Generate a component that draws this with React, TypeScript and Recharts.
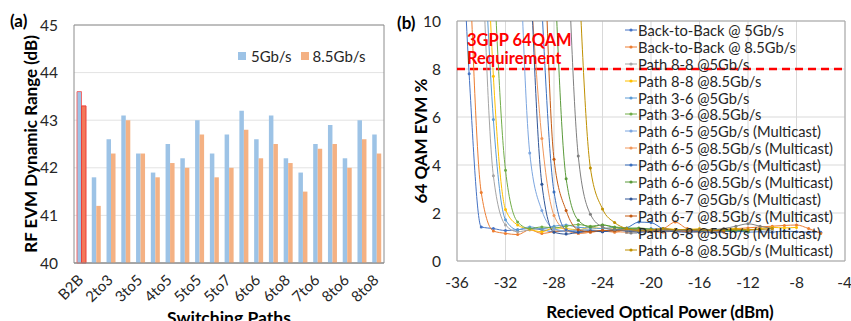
import React from "react";
import {
  BarChart,
  Bar,
  Cell,
  LineChart,
  Line,
  XAxis,
  YAxis,
  CartesianGrid,
  ReferenceLine,
  ReferenceArea,
  Legend,
  Label,
} from "recharts";

const FONT = "Lato, 'Open Sans', sans-serif";
const INK = "#262626";

// (a) dynamic range per switching path
const paths = [
  "B2B", "2to2", "2to3", "3to3", "3to5", "4to4", "4to5", "5to4", "5to5", "5to6", "5to7",
  "6to5", "6to6", "6to7", "6to8", "7to5", "7to6", "8to5", "8to6", "8to7", "8to8",
];
const range5G = [43.6, 41.8, 42.6, 43.1, 42.3, 41.9, 42.5, 42.2, 43.0, 42.3, 42.7, 43.2, 42.6, 43.1, 42.2, 41.9, 42.5, 42.9, 42.2, 43.0, 42.7];
const range85G = [43.3, 41.2, 42.3, 43.0, 42.3, 41.8, 42.1, 42.0, 42.7, 41.8, 42.0, 42.8, 42.2, 42.5, 42.1, 41.5, 42.4, 42.5, 42.0, 42.6, 42.3];
const rangeTicks = [40, 41, 42, 43, 44, 45];

// (b) EVM vs received optical power, [dBm, EVM %]
const b2b5 = [[-36, 19], [-35, 7.8], [-34, 1.42], [-33, 1.35], [-32, 1.27], [-31, 1.3], [-30, 1.36], [-29, 1.3], [-28, 1.22], [-27, 1.25], [-26, 1.2], [-25, 1.22], [-24, 1.26], [-23, 1.3], [-22, 1.28], [-21, 1.25], [-20, 1.22], [-19, 1.3], [-18, 1.25], [-17, 1.22], [-16, 1.25], [-15, 1.2], [-14, 1.22], [-13, 1.25], [-12, 1.2], [-11, 1.22], [-10, 1.2], [-9, 1.25], [-8, 1.22], [-7, 1.2], [-6, 1.2]];
const b2b85 = [[-35, 13], [-34, 2.85], [-33, 1.25], [-32, 1.15], [-31, 1.1], [-30, 1.3], [-29, 1.15], [-28, 1.22], [-27, 1.28], [-26, 1.15], [-25, 1.2], [-24, 1.25], [-23, 1.2], [-22, 1.3], [-21, 1.25], [-20, 1.3], [-19, 1.35], [-18, 1.62], [-17, 1.35], [-16, 1.3], [-15, 1.28], [-14, 1.3], [-13, 1.35], [-12, 1.38], [-11, 1.42], [-10, 1.45], [-9, 1.48], [-8, 1.5], [-7, 1.35], [-6, 1.15]];
const p88_5 = [[-34, 14], [-33, 3.55], [-32, 1.5], [-31, 1.22], [-30, 1.3], [-29, 1.35], [-28, 1.3], [-27, 1.25], [-26, 1.28], [-25, 1.3], [-24, 1.25], [-23, 1.3], [-22, 1.28], [-21, 1.3], [-20, 1.25], [-19, 1.3], [-18, 1.28], [-17, 1.3], [-16, 1.25], [-15, 1.3], [-14, 1.32], [-13, 1.3], [-12, 1.28], [-11, 1.3], [-10, 1.28]];
const p88_85 = [[-34, 20], [-33, 7.7], [-32, 2.15], [-31, 1.5], [-30, 1.32], [-29, 1.22], [-28, 1.38], [-27, 1.35], [-26, 1.3], [-25, 1.4], [-24, 1.35], [-23, 1.38], [-22, 1.3], [-21, 1.35], [-20, 1.3], [-19, 1.35], [-18, 1.32], [-17, 1.3], [-16, 1.35], [-15, 1.3], [-14, 1.32], [-13, 1.35], [-12, 1.3], [-11, 1.35], [-10, 1.4], [-9, 1.38], [-8, 1.4]];
const p36_5 = [[-34, 16], [-33, 5.9], [-32, 1.72], [-31, 1.3], [-30, 1.42], [-29, 1.35], [-28, 1.45], [-27, 1.5], [-26, 1.4], [-25, 1.38], [-24, 1.35], [-23, 1.4], [-22, 1.35], [-21, 1.3], [-20, 1.35], [-19, 1.3], [-18, 1.28], [-17, 1.3], [-16, 1.32], [-15, 1.28], [-14, 1.3], [-13, 1.25], [-12, 1.28]];
const p36_85 = [[-33, 12.5], [-32, 3.78], [-31, 1.63], [-30, 1.35], [-29, 1.42], [-28, 1.38], [-27, 1.45], [-26, 1.52], [-25, 1.45], [-24, 1.5], [-23, 1.42], [-22, 1.38], [-21, 1.35], [-20, 1.3], [-19, 1.32], [-18, 1.28], [-17, 1.3], [-16, 1.25], [-15, 1.28], [-14, 1.3], [-13, 1.25], [-12, 1.22]];
const p65_5 = [[-31, 16], [-30, 4.5], [-29, 2.1], [-28, 1.35], [-27, 1.25], [-26, 1.3], [-25, 1.28], [-24, 1.25], [-23, 1.3], [-22, 1.25], [-21, 1.28], [-20, 1.3], [-19, 1.25], [-18, 1.28], [-17, 1.3], [-16, 1.25], [-15, 1.22], [-14, 1.25]];
const p65_85 = [[-30, 12], [-29, 5.1], [-28, 1.9], [-27, 1.28], [-26, 1.15], [-25, 1.2], [-24, 1.25], [-23, 1.22], [-22, 1.2], [-21, 1.25], [-20, 1.22], [-19, 1.2], [-18, 1.25], [-17, 1.22], [-16, 1.2], [-15, 1.22], [-14, 1.2]];
const p66_5 = [[-29, 10.6], [-28, 2.88], [-27, 1.3], [-26, 1.2], [-25, 1.25], [-24, 1.22], [-23, 1.3], [-22, 1.38], [-21, 1.62], [-20, 1.6], [-19, 1.35], [-18, 1.3], [-17, 1.28], [-16, 1.25], [-15, 1.28], [-14, 1.25], [-13, 1.22], [-12, 1.25]];
const p66_85 = [[-28, 12.8], [-27, 3.43], [-26, 1.7], [-25, 1.42], [-24, 1.5], [-23, 1.4], [-22, 1.35], [-21, 1.38], [-20, 1.32], [-19, 1.3], [-18, 1.28], [-17, 1.3], [-16, 1.25], [-15, 1.28], [-14, 1.25], [-13, 1.28], [-12, 1.25]];
const p67_5 = [[-30, 12.9], [-29, 3.2], [-28, 1.2], [-27, 1.12], [-26, 1.2], [-25, 1.25], [-24, 1.22], [-23, 1.28], [-22, 1.25], [-21, 1.2], [-20, 1.22], [-19, 1.25], [-18, 1.22], [-17, 1.2], [-16, 1.22], [-15, 1.2], [-14, 1.22]];
const p67_85 = [[-29, 17], [-28, 4.24], [-27, 2.1], [-26, 1.3], [-25, 1.22], [-24, 1.28], [-23, 1.25], [-22, 1.3], [-21, 1.28], [-20, 1.25], [-19, 1.3], [-18, 1.28], [-17, 1.25], [-16, 1.3], [-15, 1.28], [-14, 1.25]];
const p68_5 = [[-27, 15], [-26, 4.38], [-25, 1.95], [-24, 1.42], [-23, 1.3], [-22, 1.28], [-21, 1.25], [-20, 1.28], [-19, 1.3], [-18, 1.25], [-17, 1.3], [-16, 1.28], [-15, 1.3], [-14, 1.35], [-13, 1.45], [-12, 1.55], [-11, 1.45], [-10, 1.35]];
const p68_85 = [[-26, 12.6], [-25, 3.88], [-24, 2.17], [-23, 1.6], [-22, 1.35], [-21, 1.28], [-20, 1.3], [-19, 1.35], [-18, 1.3], [-17, 1.32], [-16, 1.3], [-15, 1.28], [-14, 1.3], [-13, 1.32], [-12, 1.3], [-11, 1.32], [-10, 1.35]];
const powerTicks = [-36, -32, -28, -24, -20, -16, -12, -8, -4];
const evmTicks = [0, 2, 4, 6, 8, 10];

const evmSeries = [
  { name: "Back-to-Back @ 5Gb/s", color: "#4472C4", points: b2b5 },
  { name: "Back-to-Back @ 8.5Gb/s", color: "#ED7D31", points: b2b85 },
  { name: "Path 8-8 @5Gb/s", color: "#A5A5A5", points: p88_5 },
  { name: "Path 8-8 @8.5Gb/s", color: "#FFC000", points: p88_85 },
  { name: "Path 3-6 @5Gb/s", color: "#5B9BD5", points: p36_5 },
  { name: "Path 3-6 @8.5Gb/s", color: "#70AD47", points: p36_85 },
  { name: "Path 6-5 @5Gb/s (Multicast)", color: "#7CA6E0", points: p65_5 },
  { name: "Path 6-5 @8.5Gb/s (Multicast)", color: "#F1975A", points: p65_85 },
  { name: "Path 6-6 @5Gb/s (Multicast)", color: "#3A70C0", points: p66_5 },
  { name: "Path 6-6 @8.5Gb/s (Multicast)", color: "#5A9A3A", points: p66_85 },
  { name: "Path 6-7 @5Gb/s (Multicast)", color: "#2F5597", points: p67_5 },
  { name: "Path 6-7 @8.5Gb/s (Multicast)", color: "#C55A11", points: p67_85 },
  { name: "Path 6-8 @5Gb/s (Multicast)", color: "#7F7F7F", points: p68_5 },
  { name: "Path 6-8 @8.5Gb/s (Multicast)", color: "#BF9000", points: p68_85 },
];

const barData = paths.map((p, i) => ({ path: p, g5: range5G[i], g85: range85G[i] }));

const PathTick = (props: any) => {
  const { x, y, payload } = props;
  const tx = x + 3;
  const ty = y + 10;
  return (
    <text x={tx} y={ty} transform={`rotate(-45 ${tx} ${ty})`} textAnchor="end" fontSize={15} fill={INK} fontFamily={FONT}>
      {payload.value}
    </text>
  );
};

const BarLegend = () => (
  <div style={{ display: "flex", alignItems: "center", fontSize: 15, fontFamily: FONT, color: INK }}>
    <span style={{ width: 8, height: 8, background: "#9DC3E6", marginRight: 5 }} />
    <span style={{ marginRight: 9 }}>5Gb/s</span>
    <span style={{ width: 8, height: 8, background: "#F4B183", marginRight: 4 }} />
    <span>8.5Gb/s</span>
  </div>
);

const EvmLegend = () => (
  <div style={{ fontFamily: FONT, fontSize: 14.7, color: INK }}>
    {evmSeries.map((s) => (
      <div key={s.name} style={{ display: "flex", alignItems: "center", height: 16.9, whiteSpace: "nowrap" }}>
        <svg width={12} height={6} style={{ marginRight: 1 }}>
          <line x1={0} y1={3} x2={12} y2={3} stroke={s.color} strokeWidth={1} />
          <circle cx={6} cy={3} r={1.6} fill={s.color} />
        </svg>
        <span>{s.name}</span>
      </div>
    ))}
  </div>
);

const tickStyle = { fontSize: 15.5, fill: INK, fontFamily: FONT };
const titleStyle = { fontSize: 17, fontWeight: 700, fill: "#000", fontFamily: FONT, textAnchor: "middle" as const };

export default function App() {
  return (
    <div style={{ position: "absolute", left: 0, top: 0, width: 851, height: 321, background: "#fff", fontFamily: FONT, overflow: "hidden" }}>
      <div style={{ position: "absolute", left: 0, top: 0 }}>
        <BarChart width={400} height={321} data={barData} margin={{ top: 25, right: 16, bottom: 0, left: 0 }} barGap={0} barSize={4.5}>
          <CartesianGrid vertical={false} stroke="#e3e3e3" />
          <XAxis dataKey="path" interval={1} height={58} tickLine={false} axisLine={{ stroke: "#8c8c8c" }} tick={PathTick}>
            <Label value="Switching Paths" position="insideBottom" offset={-3} style={{ ...titleStyle, fontSize: 17.5 }} />
          </XAxis>
          <YAxis domain={[40, 45]} ticks={rangeTicks} width={74} tickLine={false} axisLine={false} tickMargin={10} tick={tickStyle}>
            <Label value="RF EVM Dynamic Range (dB)" angle={-90} position="insideLeft" offset={31} style={titleStyle} />
          </YAxis>
          <ReferenceArea y1={40} y2={45} fill="none" stroke="#8c8c8c" strokeWidth={1} />
          <Bar dataKey="g5" fill="#9DC3E6" isAnimationActive={false}>
            {barData.map((d, i) => (
              <Cell key={d.path} fill="#9DC3E6" stroke={i === 0 ? "#F26B6B" : "none"} strokeWidth={1} />
            ))}
          </Bar>
          <Bar dataKey="g85" fill="#F4B183" isAnimationActive={false}>
            {barData.map((d, i) => (
              <Cell key={d.path} fill={i === 0 ? "#F4785A" : "#F4B183"} stroke={i === 0 ? "#E8413A" : "none"} strokeWidth={1} />
            ))}
          </Bar>
          <Legend layout="vertical" align="center" verticalAlign="middle" content={BarLegend} wrapperStyle={{ left: 238, top: 47, width: "auto" }} />
        </BarChart>
      </div>

      <div style={{ position: "absolute", left: 400, top: 0 }}>
        <LineChart width={451} height={321} margin={{ top: 21, right: 6, bottom: 0, left: 0 }}>
          <CartesianGrid stroke="#d9d9d9" />
          <XAxis type="number" dataKey="x" domain={[-36, -4]} ticks={powerTicks} allowDataOverflow height={60} tickLine={false} axisLine={false} tickMargin={10} tick={tickStyle}>
            <Label value="Recieved Optical Power (dBm)" position="insideBottom" offset={3} dx={9} style={titleStyle} />
          </XAxis>
          <YAxis type="number" domain={[0, 10]} ticks={evmTicks} allowDataOverflow width={57} tickLine={false} axisLine={false} tickMargin={10} tick={tickStyle}>
            <Label value="64 QAM EVM %" angle={-90} position="insideLeft" offset={21} style={titleStyle} />
          </YAxis>
          <ReferenceArea x1={-36} x2={-4} y1={0} y2={10} fill="none" stroke="#a6a6a6" strokeWidth={1} />
          <ReferenceLine y={8} stroke="#FF0000" strokeWidth={2.5} strokeDasharray="8 5" />
          {evmSeries.map((s) => (
            <Line
              key={s.name}
              name={s.name}
              data={s.points.map(([x, y]) => ({ x, y }))}
              dataKey="y"
              type="monotone"
              stroke={s.color}
              strokeWidth={1}
              dot={{ r: 1.5, fill: s.color, stroke: s.color, strokeWidth: 0 }}
              isAnimationActive={false}
            />
          ))}
          <Legend layout="vertical" align="center" verticalAlign="middle" content={EvmLegend} wrapperStyle={{ left: 225, top: 21.5, width: "auto" }} />
        </LineChart>
      </div>

      <div style={{ position: "absolute", left: 10, top: 11.5, fontSize: 17, lineHeight: "18px", fontWeight: 700, color: "#000" }}>(a)</div>
      <div style={{ position: "absolute", left: 397, top: 13.5, fontSize: 17, lineHeight: "18px", fontWeight: 700, color: "#000" }}>(b)</div>
      <div style={{ position: "absolute", left: 467, top: 30.5, fontSize: 16.5, lineHeight: "18px", fontWeight: 700, color: "#FF0000" }}>
        3GPP 64QAM
        <br />
        Requirement
      </div>
    </div>
  );
}
